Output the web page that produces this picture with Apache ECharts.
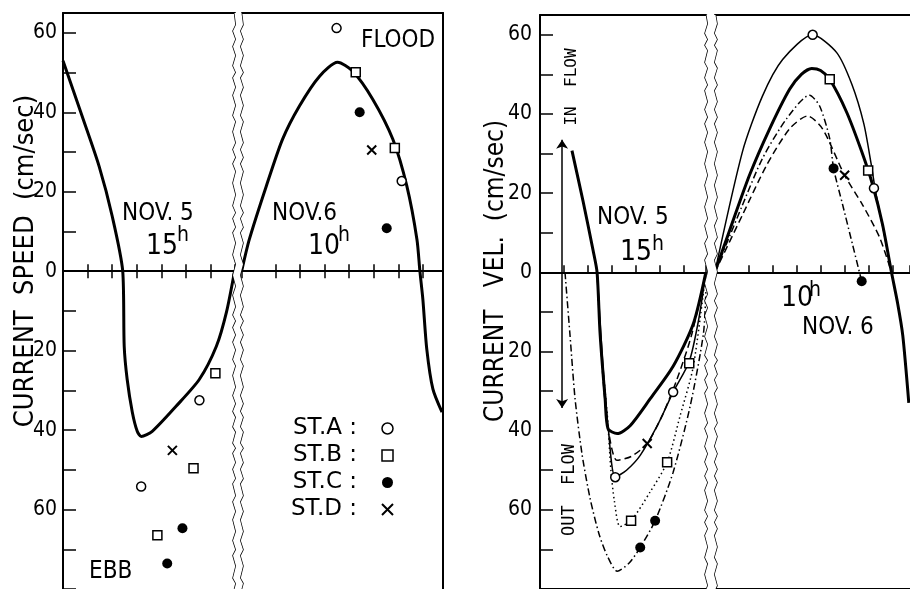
<!DOCTYPE html>
<html>
<head>
<meta charset="utf-8">
<title>Current speed and velocity, Nov. 5-6</title>
<script src="https://cdn.jsdelivr.net/npm/echarts@6/dist/echarts.min.js"></script>
<style>
  html, body { margin: 0; height: 100%; background: #fff; }
  #main { width: 910px; height: 589px; }
</style>
</head>
<body>
<div id="main"></div>
<script>
// x = hours counted from Nov 5 0h  (Nov 6 10h -> 34)
// ---- left panel: current speed (ebb negative) ----
var speedMeanEbb = [[11.0, 53], [11.78, 39], [12.47, 26.4], [13.0, 13.9], [13.43, 0], [13.49, -18.9],
  [13.61, -27.2], [13.82, -35.5], [14.02, -40.3], [14.18, -41.6], [14.63, -40.3], [15.6, -34],
  [16.55, -27.2], [17.24, -18.9], [17.65, -10.3], [17.98, 0]];
var speedMeanFlood = [[30.53, 0], [30.94, 8], [31.63, 21.4], [32.29, 33.2], [32.98, 41.6], [33.8, 49.1],
  [34.53, 52.6], [35.14, 50.4], [35.96, 43.3], [36.78, 33.2], [37.35, 21.4], [37.76, 8], [37.88, 0],
  [38.0, -7], [38.16, -19.6], [38.41, -29.7], [38.78, -35.5]];
var speedA = [[34.49, 61.2], [37.14, 22.7], [16.55, -32.5], [14.18, -54.2]];
var speedB = [[35.27, 50.1], [36.86, 31], [17.2, -25.7], [16.31, -49.6], [14.84, -66.5]];
var speedC = [[35.43, 40], [36.53, 10.8], [15.86, -64.7], [15.24, -73.6]];
var speedD = [[35.92, 30.5], [15.45, -45.1]];

// ---- right panel: current velocity (in flow +, out flow -) ----
var velMeanEbb = [[12.33, 30.75], [12.79, 18], [13.21, 5.5], [13.375, 0], [13.5, -15.5], [13.71, -32],
  [13.83, -39.5], [14.21, -40.75], [14.75, -38.75], [15.58, -32], [16.54, -23.75], [17.38, -13], [17.9, 0]];
var velMeanFlood = [[30.6, 0], [31.21, 10.5], [32.04, 24.5], [32.88, 36.25], [33.71, 46.25], [34.2, 50],
  [34.63, 51.5], [35.0, 51], [35.38, 48.75], [36.08, 40.5], [36.71, 30.5], [37.17, 22], [37.58, 12],
  [37.95, 0], [38.21, -8], [38.42, -16], [38.67, -33]];
var velAEbb = [[13.375, 0], [13.6, -22], [13.85, -40], [14.13, -51.75], [14.6, -50], [15.17, -46.25],
  [15.9, -38.5], [16.54, -30.25], [17.21, -22.5], [17.6, -12], [17.9, 0]];
var velAFlood = [[30.6, 0], [31.75, 30.5], [32.58, 44.5], [33.42, 53.75], [34.67, 60], [35.67, 55.5],
  [36.3, 47.5], [36.8, 37.5], [37.1, 27.5], [37.3, 20], [37.62, 10.5], [37.95, 0]];
var velBEbb = [[13.375, 0], [13.55, -20], [13.8, -36], [13.95, -50], [14.1, -58], [14.33, -64.25],
  [14.79, -62.75], [15.58, -55.5], [16.29, -48], [16.83, -36.25], [17.38, -23.75], [17.9, 0]];
var velCEbb = [[12.04, 0], [12.25, -16], [12.46, -32], [12.75, -46], [13.08, -57], [13.45, -66],
  [13.79, -71.5], [14.21, -75.5], [14.7, -73.5], [15.17, -69.5], [15.79, -62.75], [16.54, -50.5],
  [17.25, -33.75], [17.8, -15.5], [17.9, -5]];
var velCFlood = [[30.6, 0], [31.75, 17], [32.58, 28.75], [33.58, 38.75], [34.54, 44.75], [34.96, 42],
  [35.38, 33.75], [35.54, 26.25], [35.92, 17], [36.33, 7], [36.71, -2.25]];
var velDEbb = [[13.375, 0], [13.6, -25], [13.85, -40], [14.2, -47.5], [14.8, -46.5], [15.46, -43.25],
  [16.1, -36], [16.7, -27], [17.3, -16], [17.9, 0]];
var velDFlood = [[30.6, 0], [31.75, 14.5], [32.75, 27], [33.71, 36.25], [34.46, 39.5], [35.08, 36.25],
  [36.0, 24.5], [36.75, 17], [37.46, 8.75], [37.95, 0]];
var velA = [[34.67, 60], [37.22, 21.25], [14.13, -51.75], [16.54, -30.25]];
var velB = [[35.38, 48.75], [36.98, 25.75], [14.79, -62.75], [16.29, -48], [17.21, -23]];
var velC = [[35.54, 26.25], [36.71, -2.25], [15.17, -69.5], [15.79, -62.75]];
var velD = [[36.0, 24.5], [15.46, -43.25]];
var flowArrowX = 11.92;
var flowArrowEnds = [33.5, -34.25];

var stations = ['ST.A', 'ST.B', 'ST.C', 'ST.D'];

var FONT = '"DejaVu Sans Condensed", "DejaVu Sans", sans-serif';
var CROSS = 'path://M0,0L10,10M10,0L0,10';

// marker look per station
function marker(i) {
  if (i === 0) return { symbol: 'circle', symbolSize: 9, itemStyle: { color: '#fff', borderColor: '#000', borderWidth: 1.5, opacity: 1 } };
  if (i === 1) return { symbol: 'rect', symbolSize: 9, itemStyle: { color: '#fff', borderColor: '#000', borderWidth: 1.5, opacity: 1 } };
  if (i === 2) return { symbol: 'circle', symbolSize: 10, itemStyle: { color: '#000', borderColor: '#000', borderWidth: 0, opacity: 1 } };
  return { symbol: CROSS, symbolSize: 9, itemStyle: { color: '#000', borderColor: '#000', borderWidth: 2, opacity: 1 } };
}

// three x axes per panel: tick up, tick down (both on zero line), top border
function hourAxes(grid, brk, max) {
  function base(showBreak) {
    return {
      type: 'value', gridIndex: grid, min: 11, max: max, interval: 1,
      breaks: [{ start: brk[0], end: brk[1], gap: brk[2] }],
      breakArea: {
        show: showBreak, expandOnClick: false,
        zigzagAmplitude: 1.5, zigzagMinSpan: 5, zigzagMaxSpan: 12,
        itemStyle: { color: '#fff', borderColor: '#000', borderWidth: 1.5, borderType: 'solid', opacity: 1 }
      },
      axisLabel: { show: false },
      splitLine: { show: false }
    };
  }
  var up = base(true);
  up.position = 'bottom';
  up.axisLine = { onZero: true, lineStyle: { color: '#000', width: 2 } };
  up.axisTick = { inside: true, length: 7, lineStyle: { color: '#000', width: 1.5 } };
  var down = base(false);
  down.position = 'bottom';
  down.axisLine = { onZero: true, lineStyle: { color: '#000', width: 2 } };
  down.axisTick = { inside: false, length: 7, lineStyle: { color: '#000', width: 1.5 } };
  var top = base(false);
  top.position = 'top';
  top.axisLine = { onZero: false, lineStyle: { color: '#000', width: 2 } };
  top.axisTick = { show: false };
  return [up, down, top];
}

function valueAxis(grid, margin) {
  return {
    type: 'value', gridIndex: grid, min: -80, max: 65, interval: 10, position: 'left',
    axisLine: { show: true, onZero: false, lineStyle: { color: '#000', width: 2 } },
    axisTick: { inside: true, length: 13, lineStyle: { color: '#000', width: 1.5 } },
    axisLabel: {
      margin: margin, color: '#000', fontSize: 21, fontFamily: FONT,
      formatter: function (v) { return (v % 20 === 0 && v > -80) ? String(Math.abs(v)) : ''; }
    },
    splitLine: { show: false }
  };
}

function curve(name, data, xi, yi, width, type) {
  return {
    name: name, type: 'line', data: data, xAxisIndex: xi, yAxisIndex: yi,
    smooth: 0.25, symbol: 'none', z: 3,
    lineStyle: { color: '#000', width: width, type: type }
  };
}

function points(name, data, xi, yi, i) {
  var m = marker(i);
  return {
    name: name, type: 'scatter', data: data, xAxisIndex: xi, yAxisIndex: yi, z: 5,
    symbol: m.symbol, symbolSize: m.symbolSize, itemStyle: m.itemStyle
  };
}

function txt(x, y, s, size, extra) {
  var e = {
    type: 'text', x: x, y: y, z: 20,
    style: { text: s, fill: '#000', fontSize: size, fontFamily: FONT, align: 'left', verticalAlign: 'middle' }
  };
  if (extra) {
    if (extra.align) e.style.align = extra.align;
    if (extra.rotation) e.rotation = extra.rotation;
    if (extra.font) e.style.fontFamily = extra.font;
  }
  return e;
}

var DASH = [7, 4];
var DOT = [1.5, 3];
var DASHDOT = [7, 3, 1.5, 3];
var UP = Math.PI / 2;

var rightBorder = valueAxis(0, 6);
rightBorder.position = 'right';
rightBorder.axisTick = { show: false };
rightBorder.axisLabel = { show: false };

var speedSets = [speedA, speedB, speedC, speedD];
var velSets = [velA, velB, velC, velD];

var series = [
  curve('mean speed ebb', speedMeanEbb, 0, 0, 3, 'solid'),
  curve('mean speed flood', speedMeanFlood, 0, 0, 3, 'solid')
];
stations.forEach(function (s, i) { series.push(points(s, speedSets[i], 0, 0, i)); });

var velMeanEbbSeries = curve('mean vel ebb', velMeanEbb, 3, 2, 3, 'solid');
velMeanEbbSeries.markLine = {
  silent: true, symbol: ['none', 'arrow'], symbolSize: 9, animation: false,
  label: { show: false },
  lineStyle: { color: '#000', width: 1.5, type: 'solid' },
  data: flowArrowEnds.map(function (v) { return [{ coord: [flowArrowX, 0] }, { coord: [flowArrowX, v] }]; })
};
series.push(velMeanEbbSeries);
series.push(curve('mean vel flood', velMeanFlood, 3, 2, 3, 'solid'));
series.push(curve('A vel ebb', velAEbb, 3, 2, 1.5, 'solid'));
series.push(curve('A vel flood', velAFlood, 3, 2, 1.5, 'solid'));
series.push(curve('B vel ebb', velBEbb, 3, 2, 1.5, DOT));
series.push(curve('C vel ebb', velCEbb, 3, 2, 1.5, DASHDOT));
series.push(curve('C vel flood', velCFlood, 3, 2, 1.5, DASHDOT));
series.push(curve('D vel ebb', velDEbb, 3, 2, 1.5, DASH));
series.push(curve('D vel flood', velDFlood, 3, 2, 1.5, DASH));
stations.forEach(function (s, i) { series.push(points(s + ' vel', velSets[i], 3, 2, i)); });

var chart = echarts.init(document.getElementById('main'), null, { renderer: 'canvas' });
chart.setOption({
  animation: false,
  backgroundColor: '#fff',
  grid: [
    { left: 63, top: 13, width: 380, height: 578 },
    { left: 540, top: 15, width: 370, height: 580 }
  ],
  xAxis: hourAxes(0, [17.98, 30.63, 0.29], 38.82).concat(hourAxes(1, [17.9, 30.6, 0.375], 38.72)),
  yAxis: [valueAxis(0, 6), rightBorder, valueAxis(1, 8)],
  legend: {
    orient: 'vertical', left: 286, top: 412, align: 'right', selectedMode: false,
    itemGap: 4, itemWidth: 11, itemHeight: 11,
    textStyle: { fontSize: 23, fontFamily: '"DejaVu Sans", sans-serif', color: '#000', lineHeight: 21, padding: [0, 20, 0, 0] },
    formatter: function (n) { return n + ' :'; },
    data: stations.map(function (s, i) {
      var m = marker(i);
      return { name: s, icon: m.symbol, itemStyle: m.itemStyle };
    })
  },
  graphic: [
    txt(26, 261, 'CURRENT  SPEED  (cm/sec)', 27, { align: 'center', rotation: UP }),
    txt(122, 214, 'NOV. 5', 24),
    txt(162, 247, '15', 28, { align: 'center' }),
    txt(177, 236, 'h', 21),
    txt(272, 214, 'NOV.6', 24),
    txt(324, 247, '10', 28, { align: 'center' }),
    txt(338, 236, 'h', 21),
    txt(361, 41, 'FLOOD', 24),
    txt(89, 572, 'EBB', 24),
    txt(496, 271, 'CURRENT   VEL.  (cm/sec)', 26, { align: 'center', rotation: UP }),
    txt(597, 218, 'NOV. 5', 24),
    txt(636, 253, '15', 28, { align: 'center' }),
    txt(652, 245, 'h', 21),
    txt(797, 299, '10', 28, { align: 'center' }),
    txt(809, 291, 'h', 21),
    txt(802, 328, 'NOV. 6', 24),
    txt(572, 87, 'IN  FLOW', 16, { align: 'center', rotation: UP, font: '"DejaVu Sans Mono", monospace' }),
    txt(570, 490, 'OUT  FLOW', 17, { align: 'center', rotation: UP, font: '"DejaVu Sans Mono", monospace' })
  ],
  series: series
});
</script>
</body>
</html>
